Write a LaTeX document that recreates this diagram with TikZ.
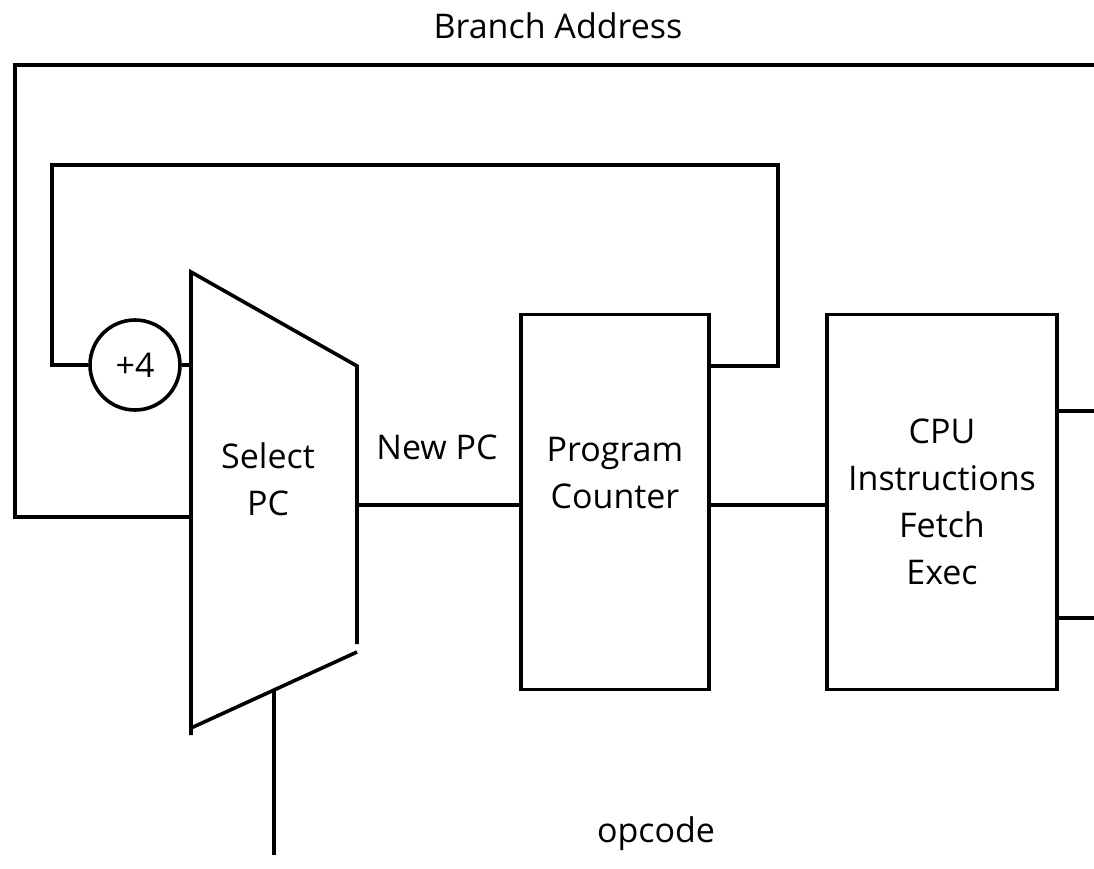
\documentclass[tikz,border=0pt]{standalone}
\usepackage{fontspec}
\setmainfont{Open Sans}
\usetikzlibrary{positioning,calc}

\begin{document}
\begin{tikzpicture}[x=1pt,y=-1pt,line width=3.6pt,
  font=\fontsize{34}{47}\selectfont,
  block/.style={draw,minimum width=188pt,minimum height=375pt,inner sep=0pt},
  adder/.style={draw,circle,minimum size=90pt,inner sep=0pt},
  lbl/.style={inner sep=0pt,align=center}]
  \useasboundingbox (0,0) rectangle (1094,868);

  % --- select PC (mux) ---
  \coordinate (muxTL) at (191,272);
  \coordinate (muxBL) at (191,735);
  \coordinate (muxTR) at (357,366);
  \coordinate (muxRB) at (357,644);
  \coordinate (muxBR) at (357,652);
  \coordinate (muxB) at (191,728);
  \draw (muxBL) -- (muxTL) -- (muxTR) -- (muxRB);
  \draw (muxBR) -- (muxB);
  \node[lbl] (selpc) at (268,479) {Select\\PC};
  \coordinate (muxin) at (191,365);
  \coordinate (brin) at (191,517);
  \coordinate (muxout) at (357,505);
  \coordinate (opin) at ($(muxBR)!0.5!(muxB)$);
  \coordinate (opend) at (274,855);

  % --- blocks ---
  \node[adder] (adder) at (135,365) {+4};
  \node[block] (pc) at (615,502) {};
  \node[lbl] (pctext) at (615,473) {Program\\Counter};
  \node[block,minimum width=230pt,align=center] (cpu) at (942,502)
    {CPU\\Instructions\\Fetch\\Exec};

  % --- connectors ---
  \coordinate (brR) at (1094,65);
  \draw (brR) -| (15,517) -- (brin);
  \node[lbl,anchor=base] (brtext) at (558,38) {Branch Address};
  \coordinate (pcout) at (pc.east |- 0,366);
  \draw (pcout) -| (778,165) -| (52,365) -- (adder.west);
  \draw (adder.east) -- (muxin);
  \draw (muxout) -- (pc.west |- muxout);
  \node[lbl,anchor=base] (newpc) at (437,459) {New PC};
  \draw (pc.east |- muxout) -- (cpu.west |- muxout);
  \coordinate (cpuA) at (1094,411);
  \coordinate (cpuB) at (1094,618);
  \draw (cpu.east |- cpuA) -- (cpuA);
  \draw (cpu.east |- cpuB) -- (cpuB);
  \draw (opin) -- (opend);
  \node[lbl,anchor=base] (opcode) at (656,842) {opcode};
\end{tikzpicture}
\end{document}
